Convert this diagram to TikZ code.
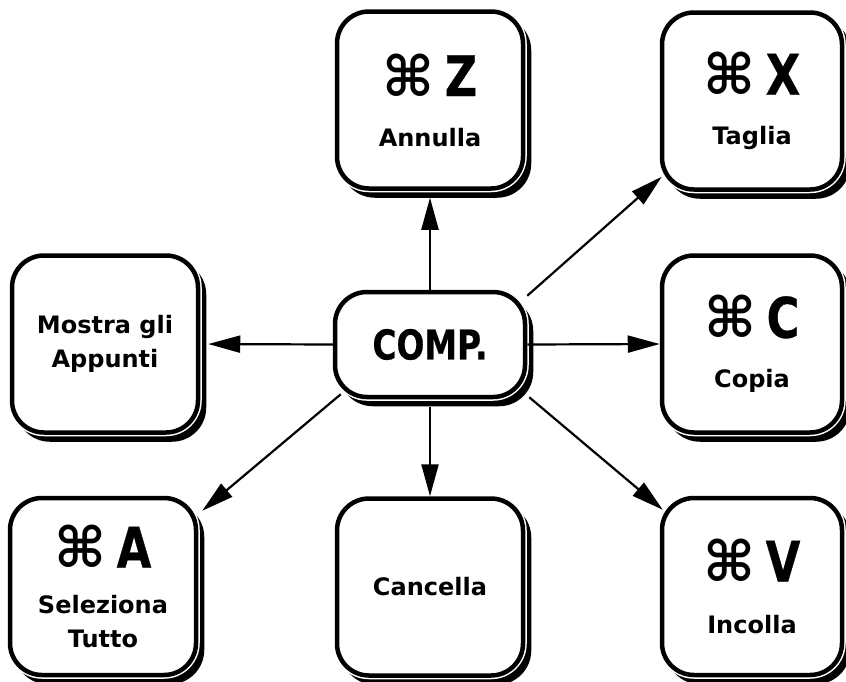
\documentclass[tikz,border=0pt]{standalone}
\usepackage{fontspec}
\setmainfont{DejaVu Sans}
\newfontfamily\symfont{DejaVu Sans}
\newfontfamily\condfont{DejaVu Sans}[FakeStretch=0.8,BoldFeatures={FakeBold=0.5}]
\usetikzlibrary{arrows.meta,calc}
\newcommand{\cmdkey}[1]{{\fontsize{56}{60}\selectfont\symfont ⌘\hspace{0.18em}\condfont\bfseries #1}}
\begin{document}
\begin{tikzpicture}[x=1pt,y=-1pt,
  keybox/.style={rounded corners=32pt, draw=black, line width=4.5pt, fill=white,
    minimum width=186pt, minimum height=177pt, inner sep=0pt, align=center,
    font=\fontsize{24}{28}\selectfont\bfseries,
    preaction={fill=black, draw=black, transform canvas={shift={(6pt,-7pt)}}},
    preaction={draw=white, line width=7.5pt}},
  link/.style={line width=2.2pt, -{Triangle[length=32pt,width=17pt]}}]
\useasboundingbox (0,0) rectangle (846,681);

\node[keybox] (annulla) at (430,100) {\cmdkey{Z}\\[22pt]Annulla};
\node[keybox, minimum width=180pt] (taglia) at (752,101) {\cmdkey{X}\\[22pt]Taglia};
\node[keybox] (mostra) at (105,344) {Mostra gli\\[6pt]Appunti};
\node[keybox, minimum width=180pt] (copia) at (752,344) {\cmdkey{C}\\[22pt]Copia};
\node[keybox] (selez) at (103,586.5) {\cmdkey{A}\\[18pt]Seleziona\\[6pt]Tutto};
\node[keybox] (cancella) at (430,587) {Cancella};
\node[keybox, minimum width=180pt] (incolla) at (752,586.5) {\cmdkey{V}\\[24pt]Incolla};
\node[keybox, minimum width=190pt, minimum height=105pt,
  font={\condfont\bfseries\fontsize{41}{48}\selectfont}] (comp) at (430,344.5) {COMP.};

\draw[link, shorten >=7pt] (comp.north) -- (comp.north |- annulla.south);
\draw[link] ($(comp.north east)+(0,6)$) -- ($(taglia.south west)+(2,-15)$);
\draw[link] (comp.east) -- (copia.west);
\draw[link, shorten >=8pt] (comp.west) -- (mostra.east);
\draw[link] ($(comp.south west)+(8,-5)$) -- ($(selez.north east)+(4,15)$);
\draw[link, shorten <=8pt] (comp.south) -- (comp.south |- cancella.north);
\draw[link] ($(comp.south east)+(2,-2)$) -- ($(incolla.north west)+(3,14)$);
\end{tikzpicture}
\end{document}
